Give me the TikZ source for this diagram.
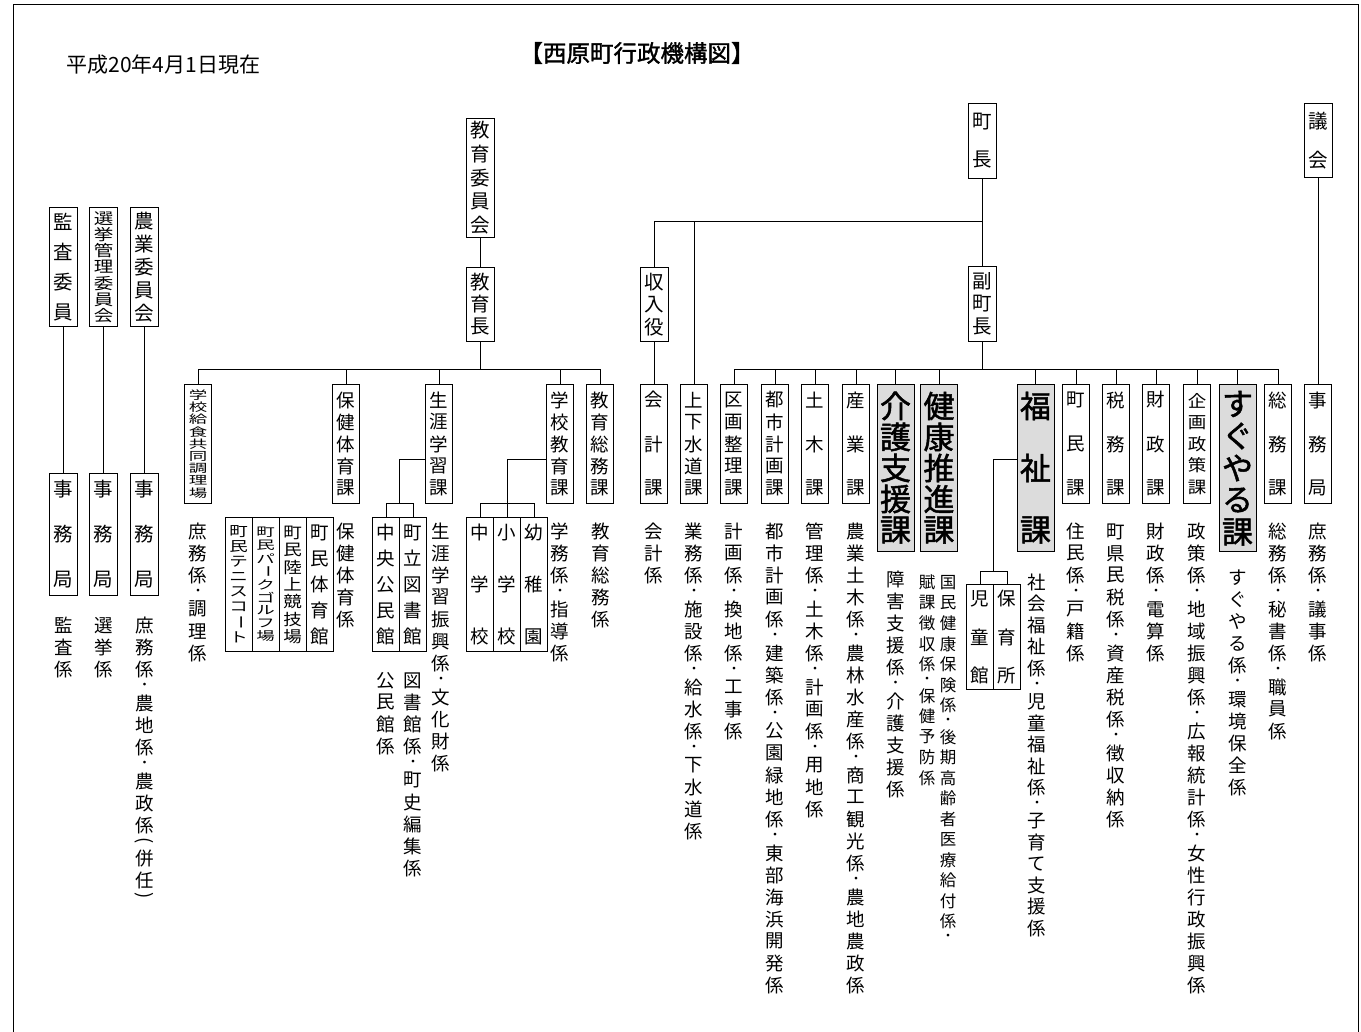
\documentclass[tikz,border=0pt]{standalone}
\usepackage{fontspec}
\usepackage{graphicx}
\setmainfont{Noto Sans CJK JP}[AutoFakeBold=1.5]
\definecolor{grisbox}{HTML}{DCDCDC}

% Texto vertical: un caracter por celda
\makeatletter
\newdimen\tatep
\newdimen\tate@prev
\newdimen\tate@half
\def\tatesy{1}
\newcommand\fsz[1]{\fontsize{#1pt}{#1pt}\selectfont}
\newcommand\vbar{\rotatebox[origin=c]{-90}{ー}}
\newcommand\tlp{\rotatebox[origin=c]{-90}{(}}
\newcommand\trp{\rotatebox[origin=c]{-90}{)}}
\def\tate@end{\tate@end@}
\newcommand\tate[2][22pt]{%
  \vbox{\offinterlineskip\tatep=#1\relax\tate@prev=\z@
    \tate@loop#2\tate@end}}
\newcommand\tatec[3]{{\def\tatesy{#1}\tate[#2]{#3}}}
\def\tate@loop#1{%
  \ifx#1\tate@end\else\tate@cell#1\expandafter\tate@loop\fi}
\def\tate@cell#1{%
  \tate@half=.5\tatep
  \let\tate@f\relax
  \ifx#1・\tate@half=.27\tatep\def\tate@f{\fsz{13}}\fi
  \ifx#1\tlp\tate@half=.25\tatep\fi
  \ifx#1\trp\tate@half=.25\tatep\fi
  \ifdim\tate@prev>\z@\vskip\dimexpr\tate@prev+\tate@half-\tatesy em\relax\fi
  \tate@prev=\tate@half
  \vbox to \tatesy em{\vss\hbox to 1em{\hss\scalebox{1}[\tatesy]{\tate@f#1}\hss}\vss}}
\makeatother

\begin{document}
\begin{tikzpicture}[x=1pt,y=-1pt]
  \useasboundingbox (0,0) rectangle (1361,1032);

  % Estilos de cajas y textos
  \tikzset{
    box/.style={draw, line width=1pt, inner sep=0pt, minimum width=27pt,
      anchor=north, font=\fsz{18.5}},
    topbox/.style={box, minimum width=28pt, font=\fsz{19.5}},
    bigbox/.style={box, fill=grisbox, minimum width=37pt,
      minimum height=167pt, font=\fsz{31}\bfseries},
    kakari/.style={inner sep=0pt, anchor=north, font=\fsz{18.5}},
    link/.style={line width=1pt}
  }

  % Marco
  \draw[link] (13,1040) -- (13,5) -- (1358,5) -- (1358,1040);

  % Titulo y fecha
  \node[font=\fsz{23.5}\bfseries] (title) at (637,53) {【西原町行政機構図】};
  \node[anchor=west, font=\fsz{21}] (fecha) at (63,65) {平成20年4月1日現在};

  % Comisiones de la izquierda
  \node[topbox, minimum height=119pt] (kansa) at (63.5,207) {\tate[30pt]{監査委員}};
  \node[topbox, minimum height=119pt] (senkyo) at (103.5,207) {\tatec{0.8}{16.2pt}{選挙管理委員会}};
  \node[topbox, minimum height=119pt] (nogyo) at (144.5,207) {\tate[23pt]{農業委員会}};
  \node[topbox, minimum height=122pt] (kansajimu) at (63.5,473) {\tate[45pt]{事務局}};
  \node[topbox, minimum height=122pt] (senkyojimu) at (103.5,473) {\tate[45pt]{事務局}};
  \node[topbox, minimum height=122pt] (nogyojimu) at (144.5,473) {\tate[45pt]{事務局}};
  \draw[link] (kansa) -- (kansajimu);
  \draw[link] (senkyo) -- (senkyojimu);
  \draw[link] (nogyo) -- (nogyojimu);
  \node[kakari] (k-kansa) at (63.5,616) {\tate{監査係}};
  \node[kakari] (k-senkyo) at (103.5,616) {\tate{選挙係}};
  \node[kakari] (k-nogyo) at (144.5,616) {\tate{庶務係・農地係・農政係\tlp 併任\trp}};

  % Educacion
  \node[topbox, minimum height=119pt] (iinkai) at (480,118) {\tate[23.7pt]{教育委員会}};
  \node[topbox, minimum height=74pt] (kyoikucho) at (480,267) {\tate[22.5pt]{教育長}};
  \coordinate (ebar) at (480,370);
  \node[box, minimum height=119pt] (kyushoku) at (198,384) {\tatec{0.62}{12.2pt}{学校給食共同調理場}};
  \node[box, minimum height=119pt] (hoken) at (346,384) {\tate{保健体育課}};
  \node[box, minimum height=119pt] (shogai) at (439,384) {\tate{生涯学習課}};
  \node[box, minimum height=119pt] (gakko) at (560,384) {\tate{学校教育課}};
  \node[box, minimum height=119pt] (kyomu) at (600,384) {\tate{教育総務課}};
  \draw[link] (iinkai) -- (kyoikucho);
  \draw[link] (kyoikucho) -- (ebar);
  \foreach \n in {kyushoku,hoken,shogai,gakko,kyomu}
    \draw[link] (ebar) -| (\n.north);

  % Instalaciones deportivas
  \node[box, minimum height=134pt] (tenisu) at (238.5,517) {\tatec{0.75}{15pt}{町民テニスコ\vbar ト}};
  \node[box, minimum height=134pt] (paku) at (265.5,517) {\tatec{0.65}{13pt}{町民パ\vbar クゴルフ場}};
  \node[box, minimum height=134pt] (rikujo) at (292.5,517) {\tatec{0.85}{17.3pt}{町民陸上競技場}};
  \node[box, minimum height=134pt] (taiikukan) at (319.5,517) {\tate[26pt]{町民体育館}};

  % Bibliotecas y escuelas
  \node[box, minimum height=134pt] (kominkan) at (386,517) {\tate[26pt]{中央公民館}};
  \node[box, minimum height=134pt] (toshokan) at (413,517) {\tate[26pt]{町立図書館}};
  \coordinate (sgbar) at (399.5,503);
  \draw[link] ([yshift=-75pt]shogai.north west) -| (sgbar);
  \draw[link] (sgbar) -| (kominkan.north);
  \draw[link] (sgbar) -| (toshokan.north);
  \node[box, minimum height=134pt] (chugaku) at (480,517) {\tate[52pt]{中学校}};
  \node[box, minimum height=134pt] (shogaku) at (507,517) {\tate[52pt]{小学校}};
  \node[box, minimum height=134pt] (yochien) at (534,517) {\tate[52pt]{幼稚園}};
  \coordinate (gkbar) at (507,503);
  \draw[link] ([yshift=-75pt]gakko.north west) -| (gkbar);
  \foreach \n in {chugaku,shogaku,yochien}
    \draw[link] (gkbar) -| (\n.north);

  % Kakari de educacion
  \node[kakari] (k-kyushoku) at (198,522) {\tate{庶務係・調理係}};
  \node[kakari] (k-hoken) at (346,522) {\tate{保健体育係}};
  \node[kakari] (k-shogai) at (441,522) {\tate{生涯学習振興係・文化財係}};
  \node[kakari] (k-toshokan) at (413,671) {\tate{図書館係・町史編集係}};
  \node[kakari] (k-kominkan) at (386,671) {\tate{公民館係}};
  \node[kakari] (k-gakko) at (560,522) {\tate{学務係・指導係}};
  \node[kakari] (k-kyomu) at (601,522) {\tate{教育総務係}};

  % Alcalde
  \node[topbox, minimum height=75pt] (chocho) at (982,103) {\tate[38pt]{町長}};
  \node[topbox, minimum height=75pt] (fukucho) at (982,266) {\tate[22.5pt]{副町長}};
  \node[topbox, minimum height=74pt] (shunyu) at (654,267) {\tate[22.5pt]{収入役}};
  \node[topbox, minimum height=74pt] (gikai) at (1318,103) {\tate[39pt]{議会}};
  \coordinate (mbar) at (982,222);
  \coordinate (fbar) at (982,370);

  % Departamentos
  \node[box, minimum height=119pt] (kaikei) at (654,384) {\tate[44pt]{会計課}};
  \node[box, minimum height=119pt] (jogesui) at (694,384) {\tate{上下水道課}};
  \node[box, minimum height=119pt] (kukaku) at (734,384) {\tate{区画整理課}};
  \node[box, minimum height=119pt] (toshi) at (775,384) {\tate{都市計画課}};
  \node[box, minimum height=119pt] (doboku) at (815,384) {\tate[44pt]{土木課}};
  \node[box, minimum height=119pt] (sangyo) at (856,384) {\tate[44pt]{産業課}};
  \node[bigbox] (kaigo) at (895.5,384) {\tate[31pt]{介護支援課}};
  \node[bigbox] (kenko) at (939,384) {\tate[31pt]{健康推進課}};
  \node[bigbox] (fukushi) at (1035.5,384) {\tate[62pt]{福祉課}};
  \node[box, minimum height=119pt] (chomin) at (1076,384) {\tate[44pt]{町民課}};
  \node[box, minimum height=119pt] (zeimu) at (1116,384) {\tate[44pt]{税務課}};
  \node[box, minimum height=119pt] (zaisei) at (1156,384) {\tate[44pt]{財政課}};
  \node[box, minimum height=119pt] (kikaku) at (1197,384) {\tatec{0.9}{21.5pt}{企画政策課}};
  \node[bigbox] (suguyaru) at (1237.5,384) {\tate[32pt]{すぐやる課}};
  \node[box, minimum height=119pt] (somu) at (1278,384) {\tate[44pt]{総務課}};
  \node[box, minimum height=119pt] (gjimu) at (1318,384) {\tate[44pt]{事務局}};
  \draw[link] (chocho) -- (fukucho);
  \draw[link] (mbar) -| (shunyu.north);
  \draw[link] (mbar) -| (jogesui.north);
  \draw[link] (shunyu) -- (kaikei);
  \draw[link] (fukucho) -- (fbar);
  \foreach \n in {kukaku,toshi,doboku,sangyo,kaigo,kenko,fukushi,chomin,zeimu,zaisei,kikaku,suguyaru,somu}
    \draw[link] (fbar) -| (\n.north);
  \draw[link] (gikai) -- (gjimu);

  % Guarderia y centro infantil
  \node[box, minimum height=105pt] (jidokan) at (980,584) {\tate[38.5pt]{児童館}};
  \node[box, minimum height=105pt] (hoikusho) at (1007,584) {\tate[38.5pt]{保育所}};
  \coordinate (fkbar) at (993.5,571);
  \draw[link] ([yshift=-75pt]fukushi.north west) -| (fkbar);
  \draw[link] (fkbar) -| (jidokan.north);
  \draw[link] (fkbar) -| (hoikusho.north);

  % Kakari del ayuntamiento
  \node[kakari] (k-kaikei) at (654,522) {\tate{会計係}};
  \node[kakari] (k-jogesui) at (694,522) {\tate{業務係・施設係・給水係・下水道係}};
  \node[kakari] (k-kukaku) at (734,522) {\tate{計画係・換地係・工事係}};
  \node[kakari] (k-toshi) at (775,522) {\tate{都市計画係・建築係・公園緑地係・東部海浜開発係}};
  \node[kakari] (k-doboku) at (815,522) {\tate{管理係・土木係・計画係・用地係}};
  \node[kakari] (k-sangyo) at (856,522) {\tate{農業土木係・農林水産係・商工観光係・農地農政係}};
  \node[kakari] (k-kaigo) at (895.5,570) {\tate{障害支援係・介護支援係}};
  \node[kakari, font=\fsz{16.5}] (k-kenko1) at (948,574) {\tate[20.5pt]{国民健康保険係・後期高齢者医療給付係・}};
  \node[kakari, font=\fsz{16.5}] (k-kenko2) at (927,574) {\tate[20.5pt]{賦課徴収係・保健予防係}};
  \node[kakari] (k-fukushi) at (1037,573) {\tate[21.5pt]{社会福祉係・児童福祉係・子育て支援係}};
  \node[kakari] (k-chomin) at (1076,522) {\tate{住民係・戸籍係}};
  \node[kakari] (k-zeimu) at (1116,522) {\tate{町県民税係・資産税係・徴収納係}};
  \node[kakari] (k-zaisei) at (1156,522) {\tate{財政係・電算係}};
  \node[kakari] (k-kikaku) at (1197,522) {\tate{政策係・地域振興係・広報統計係・女性行政振興係}};
  \node[kakari] (k-suguyaru) at (1237.5,568) {\tate{すぐやる係・環境保全係}};
  \node[kakari] (k-somu) at (1278,522) {\tate{総務係・秘書係・職員係}};
  \node[kakari] (k-gjimu) at (1318,522) {\tate{庶務係・議事係}};
\end{tikzpicture}
\end{document}
